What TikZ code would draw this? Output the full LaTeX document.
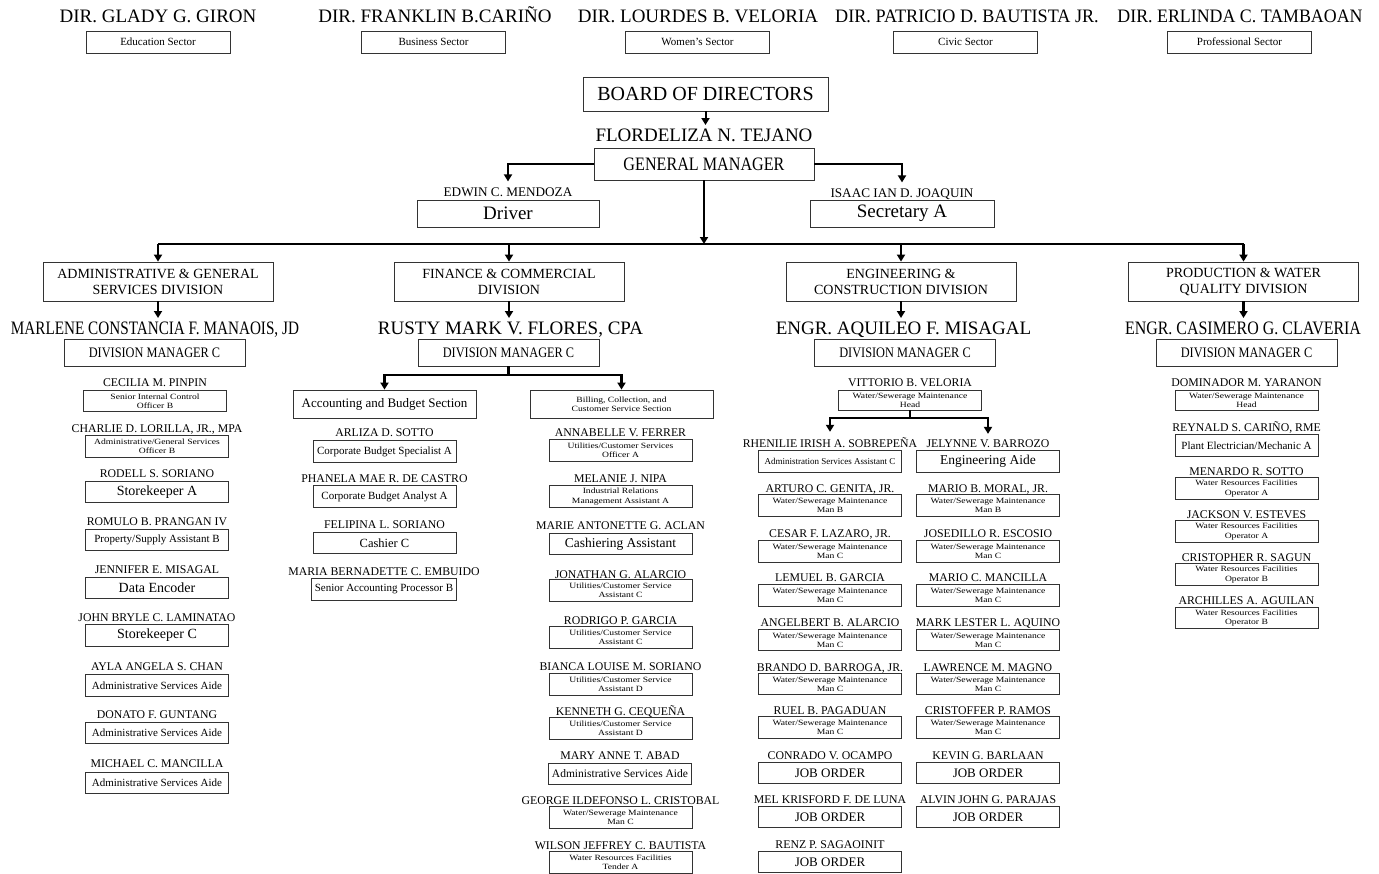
\documentclass[tikz,border=0pt]{standalone}
\usepackage{fontspec}
\usepackage{graphicx}
\setmainfont{Liberation Serif}
\newfontfamily\widef{Liberation Serif}[FakeStretch=1.2]
\usetikzlibrary{arrows.meta}

\newcommand\fs[1]{\fontsize{#1}{#1}\selectfont}
\newcommand\sq[2]{\scalebox{#1}[1]{#2}}

\tikzset{
  txt/.style={anchor=base, inner sep=0pt, yshift={-0.33*#1pt}, font=\fontsize{#1}{#1}\selectfont},
  pname/.style={txt=11.8},
  bx/.style={draw=black!80, line width=0.8pt, minimum width=143pt, minimum height=21.5pt,
             inner sep=0pt, align=center, fill=white},
  tw/.style={font=\widef\fontsize{8}{9.2}\selectfont},
  t1/.style={font=\fontsize{11}{12}\selectfont},
  tm/.style={font=\fontsize{12.5}{13}\selectfont},
  tl/.style={font=\fontsize{14}{15}\selectfont},
  jo/.style={font=\fontsize{13}{14}\selectfont},
  divbox/.style={bx, minimum width=230pt, minimum height=39pt, font=\fontsize{14}{16}\selectfont},
  dmbox/.style={bx, minimum width=181pt, minimum height=27pt, font=\fontsize{14.5}{15}\selectfont},
  wire/.style={line width=2.6pt, black},
  conn/.style={wire, -{Triangle[width=8pt,length=7pt]}},
}

% one employee: a name line above a boxed position title
\newcommand\emp[7][]{%
  \node[pname] (#2) at (#3,#4) {#6};
  \node[bx,#1] (#2-box) at (#3,#5) {#7};}

\begin{document}
\begin{tikzpicture}[x=1pt,y=-1pt]
\useasboundingbox (0,0) rectangle (1379,873);
\fill[white] (0,0) rectangle (1379,873);

% ---------------- board members ----------------
\node[txt=19] (d1) at (158,16) {DIR. GLADY G. GIRON};
\node[txt=19] (d2) at (435,16) {DIR. FRANKLIN B.CARIÑO};
\node[txt=19] (d3) at (698,16) {DIR. LOURDES B. VELORIA};
\node[txt=19] (d4) at (967,16) {\sq{0.955}{DIR. PATRICIO D. BAUTISTA JR.}};
\node[txt=19] (d5) at (1240,16) {\sq{0.94}{DIR. ERLINDA C. TAMBAOAN}};
\node[bx, minimum width=144pt, minimum height=22pt, t1] (s1) at (158,42) {Education Sector};
\node[bx, minimum width=144pt, minimum height=22pt, t1] (s2) at (433.5,42) {Business Sector};
\node[bx, minimum width=144pt, minimum height=22pt, t1] (s3) at (697.5,42) {Women’s Sector};
\node[bx, minimum width=144pt, minimum height=22pt, t1] (s4) at (965.5,42) {Civic Sector};
\node[bx, minimum width=144pt, minimum height=22pt, t1] (s5) at (1239.5,42) {Professional Sector};

% ---------------- top management ----------------
\node[bx, minimum width=245pt, minimum height=34pt, font=\fs{20}] (board) at (705.5,94) {BOARD OF DIRECTORS};
\node[txt=19] (gmname) at (704,135) {FLORDELIZA N. TEJANO};
\node[bx, minimum width=220pt, minimum height=32pt, font=\fs{19}] (gm) at (704,164) {\sq{0.85}{GENERAL MANAGER}};
\node[txt=13.2] (edwin) at (508,192) {EDWIN C. MENDOZA};
\node[bx, minimum width=182pt, minimum height=27pt, font=\fs{19}] (driver) at (508,213.5) {Driver};
\node[txt=13.2] (isaac) at (902,193) {ISAAC IAN D. JOAQUIN};
\node[bx, minimum width=184pt, minimum height=27pt, font=\fs{19}] (secretary) at (902,213.5) {Secretary A};

\draw[conn, line width=2pt] (board.south) -- (board.south |- 0,125);
\draw[conn] (gm.west) -| ([yshift=6pt]edwin.north);
\draw[conn] (gm.east) -| ([yshift=6pt]isaac.north);

% ---------------- divisions ----------------
\node[divbox] (adm) at (158,281.5) {ADMINISTRATIVE \& GENERAL\\SERVICES DIVISION};
\node[divbox] (fin) at (509,281.5) {FINANCE \& COMMERCIAL\\DIVISION};
\node[divbox] (eng) at (901,281.5) {ENGINEERING \&\\CONSTRUCTION DIVISION};
\node[divbox] (pro) at (1243.5,281.5) {PRODUCTION \& WATER\\QUALITY DIVISION};

\coordinate (bus) at (705,244);
\draw[conn] (gm.south) -- (gm.south |- bus);
\draw[wire] (adm.north |- bus) -- (pro.north |- bus);
\foreach \d in {adm,fin,eng,pro} \draw[conn] (\d.north |- bus) -- (\d.north);

\node[txt=19] (admname) at (155,328) {\sq{0.8}{MARLENE CONSTANCIA F. MANAOIS, JD}};
\node[txt=19] (finname) at (510.5,328) {RUSTY MARK V. FLORES, CPA};
\node[txt=19] (engname) at (903.5,328) {ENGR. AQUILEO F. MISAGAL};
\node[txt=19] (proname) at (1243,328) {\sq{0.84}{ENGR. CASIMERO G. CLAVERIA}};
\node[dmbox] (admdm) at (154.5,352.5) {\sq{0.85}{DIVISION MANAGER C}};
\node[dmbox] (findm) at (508.5,352.5) {\sq{0.85}{DIVISION MANAGER C}};
\node[dmbox] (engdm) at (905,352.5) {\sq{0.85}{DIVISION MANAGER C}};
\node[dmbox] (prodm) at (1246.5,352.5) {\sq{0.85}{DIVISION MANAGER C}};

\draw[conn] (adm.south) -- (adm.south |- 0,318);
\draw[conn] (fin.south) -- (fin.south |- 0,318);
\draw[conn] (eng.south) -- (eng.south |- 0,318);
\draw[conn] (pro.south) -- (pro.south |- 0,318);

% ---------------- administrative & general services ----------------
\emp[tw]{a1}{155}{383}{401}{CECILIA M. PINPIN}{Senior Internal Control\\Officer B}
\emp[tw]{a2}{157}{429}{446.5}{CHARLIE D. LORILLA, JR., MPA}{Administrative/General Services\\Officer B}
\emp[tl]{a3}{157}{474}{492}{RODELL S. SORIANO}{Storekeeper A}
\emp[t1]{a4}{157}{522}{540}{ROMULO B. PRANGAN IV}{Property/Supply Assistant B}
\emp[tl]{a5}{157}{570}{588}{JENNIFER E. MISAGAL}{Data Encoder}
\emp[tl]{a6}{157}{618}{635.5}{JOHN BRYLE C. LAMINATAO}{Storekeeper C}
\emp[t1]{a7}{157}{667}{685.5}{AYLA ANGELA S. CHAN}{Administrative Services Aide}
\emp[t1]{a8}{157}{715}{733}{DONATO F. GUNTANG}{Administrative Services Aide}
\emp[t1]{a9}{157}{764}{783}{MICHAEL C. MANCILLA}{Administrative Services Aide}

% ---------------- finance & commercial ----------------
\node[bx, minimum width=183pt, minimum height=28pt, font=\fs{13}] (acc) at (384.5,404) {Accounting and Budget Section};
\node[bx, minimum width=183pt, minimum height=28pt, tw] (bill) at (621.5,404) {Billing, Collection, and\\Customer Service Section};
\coordinate (fsplit) at (508.5,375);
\draw[wire] (findm.south) -- (fsplit);
\draw[conn] (fsplit) -| (acc.north);
\draw[conn] (fsplit) -| (bill.north);

\emp[t1]{f1}{384.5}{433}{451.5}{ARLIZA D. SOTTO}{Corporate Budget Specialist A}
\emp[t1]{f2}{384.5}{479}{496.5}{PHANELA MAE R. DE CASTRO}{Corporate Budget Analyst A}
\emp[tm]{f3}{384.5}{525}{543}{FELIPINA L. SORIANO}{Cashier C}
\emp[t1,minimum width=145pt]{f4}{384}{572}{589.5}{MARIA BERNADETTE C. EMBUIDO}{Senior Accounting Processor B}

\emp[tw]{b1}{620.5}{433}{450.5}{ANNABELLE V. FERRER}{Utilities/Customer Services\\Officer A}
\emp[tw]{b2}{620.5}{479}{496.5}{MELANIE J. NIPA}{Industrial Relations\\Management Assistant A}
\emp[font=\fs{13.5}]{b3}{620.5}{526}{544}{MARIE ANTONETTE G. ACLAN}{Cashiering Assistant}
\emp[tw]{b4}{620.5}{575}{590.5}{JONATHAN G. ALARCIO}{Utilities/Customer Service\\Assistant C}
\emp[tw]{b5}{620.5}{621}{637.5}{RODRIGO P. GARCIA}{Utilities/Customer Service\\Assistant C}
\emp[tw]{b6}{620.5}{667}{684.5}{BIANCA LOUISE M. SORIANO}{Utilities/Customer Service\\Assistant D}
\emp[tw]{b7}{620.5}{712}{728.5}{KENNETH G. CEQUEÑA}{Utilities/Customer Service\\Assistant D}
\emp[font=\fs{11.5}]{b8}{620}{756}{774}{MARY ANNE T. ABAD}{Administrative Services Aide}
\emp[tw]{b9}{620.5}{801}{817.5}{GEORGE ILDEFONSO L. CRISTOBAL}{Water/Sewerage Maintenance\\Man C}
\emp[tw]{b10}{620.5}{846}{862.5}{WILSON JEFFREY C. BAUTISTA}{Water Resources Facilities\\Tender A}

% ---------------- engineering & construction ----------------
\emp[tw, minimum height=20pt]{v0}{910}{383}{400}{VITTORIO B. VELORIA}{Water/Sewerage Maintenance\\Head}
\coordinate (esplit) at (910,418);
\draw[wire] (v0-box.south) -- (esplit);

\emp[font=\fs{9}]{e1}{830}{444}{461.5}{RHENILIE IRISH A. SOBREPEÑA}{Administration Services Assistant C}
\emp[font=\fs{13.5}]{e2}{988}{444}{461.5}{JELYNNE V. BARROZO}{Engineering Aide}
\draw[conn] (esplit) -| ([yshift=6pt]e1.north);
\draw[conn] (esplit) -| ([yshift=6pt]e2.north);

\emp[tw]{e3}{830}{489}{505.5}{ARTURO C. GENITA, JR.}{Water/Sewerage Maintenance\\Man B}
\emp[tw]{e4}{988}{489}{505.5}{MARIO B. MORAL, JR.}{Water/Sewerage Maintenance\\Man B}
\emp[tw]{e5}{830}{534}{551.5}{CESAR F. LAZARO, JR.}{Water/Sewerage Maintenance\\Man C}
\emp[tw]{e6}{988}{534}{551.5}{JOSEDILLO R. ESCOSIO}{Water/Sewerage Maintenance\\Man C}
\emp[tw]{e7}{830}{578}{595.5}{LEMUEL B. GARCIA}{Water/Sewerage Maintenance\\Man C}
\emp[tw]{e8}{988}{578}{595.5}{MARIO C. MANCILLA}{Water/Sewerage Maintenance\\Man C}
\emp[tw]{e9}{830}{623}{640}{ANGELBERT B. ALARCIO}{Water/Sewerage Maintenance\\Man C}
\emp[tw]{e10}{988}{623}{640}{MARK LESTER L. AQUINO}{Water/Sewerage Maintenance\\Man C}
\emp[tw]{e11}{830}{668}{684}{BRANDO D. BARROGA, JR.}{Water/Sewerage Maintenance\\Man C}
\emp[tw]{e12}{988}{668}{684}{LAWRENCE M. MAGNO}{Water/Sewerage Maintenance\\Man C}
\emp[tw]{e13}{830}{711}{727.5}{RUEL B. PAGADUAN}{Water/Sewerage Maintenance\\Man C}
\emp[tw]{e14}{988}{711}{727.5}{CRISTOFFER P. RAMOS}{Water/Sewerage Maintenance\\Man C}
\emp[jo]{e15}{830}{756}{773}{CONRADO V. OCAMPO}{JOB ORDER}
\emp[jo]{e16}{988}{756}{773}{KEVIN G. BARLAAN}{JOB ORDER}
\emp[jo]{e17}{830}{800}{817}{MEL KRISFORD F. DE LUNA}{JOB ORDER}
\emp[jo]{e18}{988}{800}{817}{ALVIN JOHN G. PARAJAS}{JOB ORDER}
\emp[jo]{e19}{830}{845}{862}{RENZ P. SAGAOINIT}{JOB ORDER}

% ---------------- production & water quality ----------------
\emp[tw, minimum height=20pt]{p1}{1246.5}{383}{400}{DOMINADOR M. YARANON}{Water/Sewerage Maintenance\\Head}
\emp[t1]{p2}{1246.5}{428}{445.5}{REYNALD S. CARIÑO, RME}{Plant Electrician/Mechanic A}
\emp[tw]{p3}{1246.5}{472}{488.5}{MENARDO R. SOTTO}{Water Resources Facilities\\Operator A}
\emp[tw]{p4}{1246.5}{515}{531.5}{JACKSON V. ESTEVES}{Water Resources Facilities\\Operator A}
\emp[tw]{p5}{1246.5}{558}{574.5}{CRISTOPHER R. SAGUN}{Water Resources Facilities\\Operator B}
\emp[tw]{p6}{1246.5}{601}{618}{ARCHILLES A. AGUILAN}{Water Resources Facilities\\Operator B}

\end{tikzpicture}
\end{document}
